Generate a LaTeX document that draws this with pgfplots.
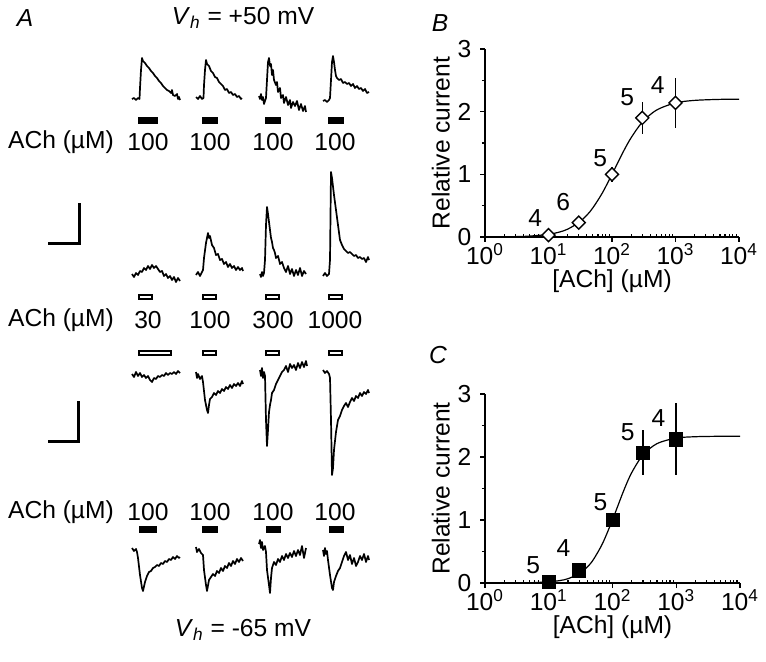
\documentclass[border=0pt]{standalone}
\usepackage{fontspec}
\setmainfont{Liberation Sans}
\usepackage{pgfplots}
\pgfplotsset{compat=1.18}
\pgfplotsset{
  trace/.style={black, line width=0.85pt, no markers, line join=round},
  solidbar/.style={black, fill=black, line width=0.3pt, no markers},
  openbar/.style={black, fill=white, line width=0.8pt, no markers},
  doseresp/.style={
    scale only axis, ymin=0, ymax=3,
    axis x line*=bottom, axis y line*=left, axis line style={-, line width=0.8pt},
    xtick={1,10,100,1000,10000},
    xticklabels={10\textsuperscript{0},10\textsuperscript{1},10\textsuperscript{2},10\textsuperscript{3},10\textsuperscript{4}},
    minor xtick={2,3,4,5,6,7,8,9,20,30,40,50,60,70,80,90,200,300,400,500,600,700,800,900,2000,3000,4000,5000,6000,7000,8000,9000},
    ytick={0,1,2,3}, yticklabels={0,1,2,3},
    minor y tick num=1,
    tick align=outside, major tick length=2.5pt, minor tick length=1.6pt,
    every tick/.style={black, line width=0.6pt},
    minor x tick style={yshift=1.6pt},
    xticklabel style={yshift=3.5pt},
    xlabel={[ACh] (µM)}, ylabel={Relative current},
    xlabel style={at={(axis description cs:0.5,0)}, anchor=center, yshift=-22pt},
    ylabel style={yshift=-4.5pt},
    clip=false,
  },
}
\begin{document}
\fontsize{12.3}{14.5}\selectfont
\begin{tikzpicture}[font=\fontsize{12.3}{14.5}\selectfont]
\useasboundingbox (0,0) rectangle (383pt,-331pt);
% ---------- canvas axis for panel A (pixel coordinates) ----------
\begin{axis}[scale only axis, width=383pt, height=331pt, at={(0,0)}, anchor=north west,
  xmin=0, xmax=766, ymin=0, ymax=662, y dir=reverse, hide axis, clip=false]
% Row 1: Vh +50, 100 uM
\addplot[trace] coordinates {(132,99) (134,98) (136,100) (138,98) (139.5,99) (140,88) (141,70) (142,58) (143,61) (145,63) (147,66) (149,68) (151,71) (153,73) (155,76) (157,78) (159,81) (161,83) (163,86) (165,88) (167,90) (169,91) (171,93) (172,90) (173,95) (175,96) (177,94) (178,99) (179,97) (180,100)};
\addplot[trace] coordinates {(196,97) (198,99) (200,96) (202,99) (203.5,98) (204,85) (205,70) (206,60) (207,64) (209,66) (211,71) (213,73) (215,77) (217,78) (219,82) (221,84) (223,86) (225,90) (227,89) (229,93) (231,92) (233,95) (235,94) (237,97) (239,96) (241,99) (242,98)};
\addplot[trace] coordinates {(259,96) (260,99) (261,94) (262,100) (263,97) (264,104) (266,98) (267,80) (268,62) (269,58) (270,66) (271,64) (272,75) (273,70) (274,80) (276,85) (277,82) (278,92) (280,88) (281,98) (283,95) (284,103) (286,97) (288,105) (290,100) (291,108) (293,102) (295,106) (297,101) (299,110) (301,104) (303,111) (305,106) (306,112)};
\addplot[trace] coordinates {(323,101) (325,100) (327,102) (329,100) (330,98) (331,80) (332,62) (333,56) (334,62) (335,70) (336,76) (337,78) (339,80) (341,79) (343,83) (345,82) (347,84) (349,83) (351,86) (353,84) (355,88) (357,86) (359,89) (361,88) (363,91) (365,89) (367,93) (369,92)};
\addplot[solidbar] coordinates {(138,117) (157,117) (157,123) (138,123)} -- cycle;
\addplot[solidbar] coordinates {(202,117) (217,117) (217,123) (202,123)} -- cycle;
\addplot[solidbar] coordinates {(265,117) (280,117) (280,123) (265,123)} -- cycle;
\addplot[solidbar] coordinates {(328,117) (343,117) (343,123) (328,123)} -- cycle;
% Row 2: Vh +50, concentration series
\addplot[trace] coordinates {(132,274) (134,277) (136,273) (138,275) (140,271) (142,272) (144,268) (146,270) (148,266) (150,269) (152,265) (154,268) (156,266) (158,269) (160,272) (162,271) (164,276) (166,274) (168,278) (170,276) (172,280) (174,277) (176,282) (178,278) (180,281)};
\addplot[trace] coordinates {(196,275) (198,272) (200,276) (202,272) (203,270) (204,258) (206,243) (208,233) (209,238) (210,236) (212,245) (214,248) (216,255) (218,254) (220,260) (222,259) (224,264) (226,262) (228,267) (230,264) (232,268) (234,266) (236,270) (238,267) (240,270) (242,268) (243,271)};
\addplot[trace] coordinates {(260,274) (261,277) (262,272) (263,276) (264,273) (265,260) (266,225) (267,207) (268,214) (269,222) (270,230) (271,238) (272,242) (273,248) (274,250) (275,253) (276,258) (278,256) (280,264) (282,262) (284,268) (286,272) (288,266) (290,274) (292,269) (294,276) (296,270) (298,275) (300,268) (302,276) (304,271) (306,274)};
\addplot[trace] coordinates {(323,276) (325,273) (327,276) (329,274) (330,260) (331,172) (332,178) (334,195) (336,210) (338,225) (340,240) (342,245) (344,249) (346,251) (348,253) (350,252) (352,254) (354,256) (356,255) (358,258) (360,257) (362,259) (364,258) (366,262) (368,257) (369,260)};
\addplot[openbar] coordinates {(139,295) (152,295) (152,299) (139,299)} -- cycle;
\addplot[openbar] coordinates {(203,295) (216,295) (216,299) (203,299)} -- cycle;
\addplot[openbar] coordinates {(266,295) (279,295) (279,299) (266,299)} -- cycle;
\addplot[openbar] coordinates {(329,295) (342,295) (342,299) (329,299)} -- cycle;
% scale bar (upper)
\addplot[black, line width=1.5pt, no markers] coordinates {(48,243) (79,243) (79,203)};
% Row 3: Vh -65, concentration series
\addplot[openbar] coordinates {(139,351) (171,351) (171,355) (139,355)} -- cycle;
\addplot[openbar] coordinates {(203,351) (216,351) (216,355) (203,355)} -- cycle;
\addplot[openbar] coordinates {(266,351) (279,351) (279,355) (266,355)} -- cycle;
\addplot[openbar] coordinates {(329,351) (342,351) (342,355) (329,355)} -- cycle;
\addplot[trace] coordinates {(132,374) (134,377) (136,372) (138,376) (140,373) (142,377) (144,375) (146,378) (148,376) (150,380) (152,382) (154,378) (156,379) (158,376) (160,377) (162,375) (164,376) (166,373) (168,375) (170,373) (172,374) (174,372) (176,374) (178,371) (180,373)};
\addplot[trace] coordinates {(196,372) (197,378) (198,374) (200,379) (202,376) (203,382) (205,400) (207,410) (208,413) (209,405) (210,399) (212,397) (214,393) (216,395) (218,391) (220,393) (222,389) (224,391) (226,387) (228,389) (230,385) (232,388) (234,384) (236,386) (238,383) (240,386) (242,381) (243,384)};
\addplot[trace] coordinates {(260,370) (261,376) (262,368) (263,378) (264,372) (265,376) (266,420) (267,446) (268,430) (269,412) (270,405) (271,400) (272,393) (274,390) (276,384) (278,380) (280,376) (282,372) (284,370) (286,366) (288,372) (290,364) (292,368) (294,365) (296,370) (298,363) (300,368) (302,362) (304,367) (306,361) (307,366)};
\addplot[trace] coordinates {(323,370) (325,373) (327,371) (329,374) (330,378) (331,420) (332,475) (333,468) (334,450) (336,432) (338,420) (340,416) (342,410) (344,406) (346,403) (348,407) (350,402) (352,398) (354,401) (356,396) (358,398) (360,393) (362,396) (364,392) (366,394) (368,390) (369,393)};
% scale bar (lower)
\addplot[black, line width=1.5pt, no markers] coordinates {(48,441) (78,441) (78,401)};
% Row 4: Vh -65, 100 uM
\addplot[solidbar] coordinates {(139,526) (156,526) (156,532) (139,532)} -- cycle;
\addplot[solidbar] coordinates {(202,526) (217,526) (217,532) (202,532)} -- cycle;
\addplot[solidbar] coordinates {(266,526) (280,526) (280,532) (266,532)} -- cycle;
\addplot[solidbar] coordinates {(329,526) (343,526) (343,532) (329,532)} -- cycle;
\addplot[trace] coordinates {(132,548) (134,551) (136,549) (137,552) (138,558) (140,575) (142,588) (143,591) (145,582) (147,576) (149,572) (151,571) (153,568) (155,567) (157,565) (159,566) (161,563) (163,564) (165,561) (167,562) (169,559) (171,560) (173,557) (175,559) (177,556) (179,558) (180,557)};
\addplot[trace] coordinates {(196,547) (197,552) (199,549) (201,553) (203,555) (204,570) (206,585) (207,591) (209,580) (211,577) (213,574) (215,576) (217,571) (219,573) (221,568) (223,571) (225,566) (227,568) (229,563) (231,566) (233,561) (235,564) (237,559) (239,562) (241,558) (243,561)};
\addplot[trace] coordinates {(259,544) (260,540) (261,548) (262,542) (263,550) (265,546) (266,552) (267,570) (269,585) (270,593) (271,578) (272,568) (274,562) (276,565) (278,559) (280,562) (282,556) (284,560) (286,554) (288,558) (290,553) (292,557) (294,551) (296,556) (298,550) (300,555) (302,546) (304,558) (306,548)};
\addplot[trace] coordinates {(323,550) (324,556) (325,548) (326,554) (327,551) (328,560) (330,575) (332,588) (333,590) (334,582) (336,576) (338,571) (340,568) (342,562) (344,556) (346,552) (348,560) (350,555) (352,564) (354,558) (356,566) (358,562) (360,556) (362,560) (364,554) (366,562) (368,556) (369,560)};
% texts
\node at (axis cs:25,18) {\itshape A};
\node at (axis cs:440,23) {\itshape B};
\node at (axis cs:438,355) {\itshape C};
\node at (axis cs:243,18) {\textit{V}\textsubscript{\textit{h}} = +50 mV};
\node at (axis cs:243,630) {\textit{V}\textsubscript{\textit{h}} = -65 mV};
\node at (axis cs:61,142) {ACh (µM)};
\node at (axis cs:61,320) {ACh (µM)};
\node at (axis cs:61,512) {ACh (µM)};
\node at (axis cs:148,142) {100};
\node at (axis cs:210,142) {100};
\node at (axis cs:273,142) {100};
\node at (axis cs:335,142) {100};
\node at (axis cs:148,320) {30};
\node at (axis cs:210,320) {100};
\node at (axis cs:273,320) {300};
\node at (axis cs:335,320) {1000};
\node at (axis cs:148,512) {100};
\node at (axis cs:210,512) {100};
\node at (axis cs:273,512) {100};
\node at (axis cs:335,512) {100};
\end{axis}
% ---------- Panel B ----------
\begin{axis}[xmode=log, xmin=1, xmax=10000, doseresp, at={(242.5pt,-118.5pt)}, anchor=south west, width=127pt, height=94pt]
\addplot[black, line width=0.6pt, no markers, smooth] coordinates {
(1,0.001) (3,0.006) (5,0.014) (10,0.042) (15,0.080) (20,0.125) (30,0.23) (40,0.346) (50,0.466) (70,0.698) (100,1.0) (150,1.358) (200,1.584) (300,1.833) (500,2.024) (1000,2.14) (2000,2.18) (5000,2.196) (10000,2.199)};
\addplot[black, line width=0.6pt, mark=square*, mark size=2.3pt, mark options={fill=white, line width=0.7pt, rotate=45},
  only marks, error bars/.cd, y dir=both, y explicit, error mark=none, error bar style={line width=0.7pt}]
  coordinates {(10,0.03) +- (0,0) (30,0.23) +- (0,0) (100,1.0) +- (0,0.12) (300,1.9) +- (0,0.26) (1000,2.14) +- (0,0.40)};
\node at (axis cs:6.2,0.30) {4};
\node at (axis cs:17,0.56) {6};
\node at (axis cs:65,1.26) {5};
\node at (axis cs:173,2.23) {5};
\node at (axis cs:525,2.42) {4};
\end{axis}
% ---------- Panel C ----------
\begin{axis}[xmode=log, xmin=1, xmax=10000, doseresp, at={(242.5pt,-291.5pt)}, anchor=south west, width=127.5pt, height=94.5pt]
\addplot[black, line width=0.6pt, no markers, smooth] coordinates {
(1,0.0002) (3,0.0016) (5,0.0044) (10,0.0175) (15,0.039) (20,0.068) (30,0.148) (40,0.251) (50,0.37) (70,0.63) (100,1.003) (150,1.467) (200,1.751) (300,2.031) (500,2.213) (1000,2.30) (2000,2.322) (5000,2.329) (10000,2.33)};
\addplot[black, mark=square*, mark size=3.3pt, only marks,
  error bars/.cd, y dir=both, y explicit, error mark=none, error bar style={line width=1.1pt}]
  coordinates {(10,0.02) +- (0,0) (30,0.2) +- (0,0) (100,1.0) +- (0,0) (300,2.07) +- (0,0.36) (1000,2.28) +- (0,0.57)};
\node at (axis cs:5.7,0.29) {5};
\node at (axis cs:17,0.56) {4};
\node at (axis cs:65,1.29) {5};
\node at (axis cs:173,2.40) {5};
\node at (axis cs:525,2.62) {4};
\end{axis}
\end{tikzpicture}
\end{document}
